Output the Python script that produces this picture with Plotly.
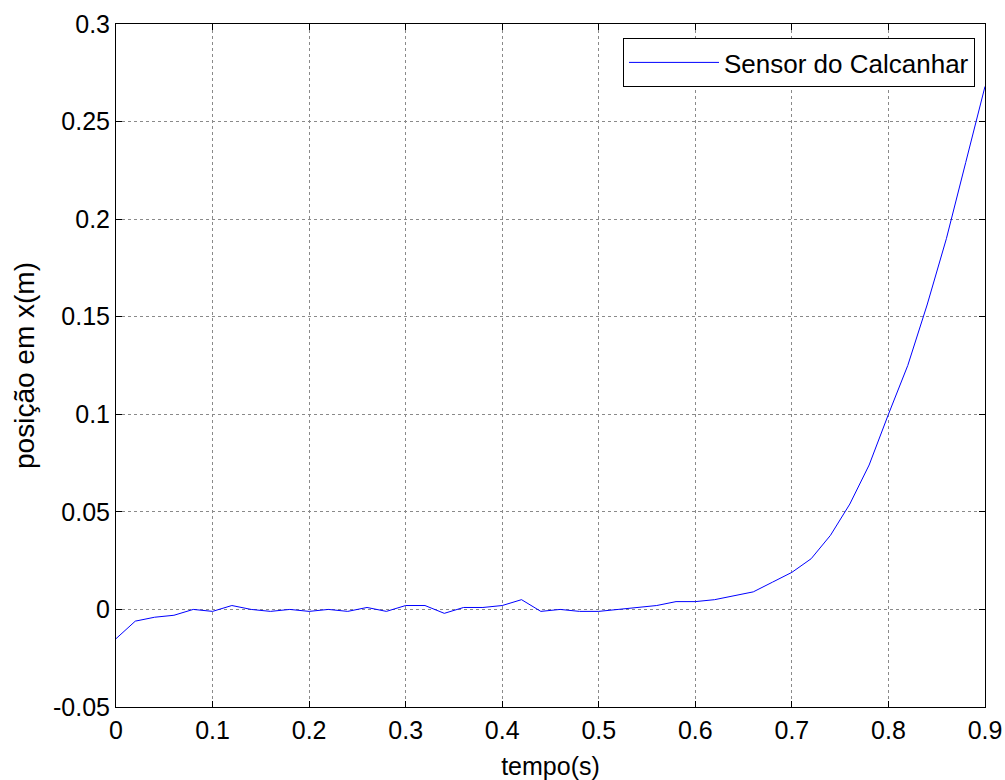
import plotly.graph_objects as go

t = [round(0.02 * i, 2) for i in range(46)]
pos_x = [-0.015, -0.006, -0.004, -0.003, 0.000, -0.001, 0.002, 0.000, -0.001, 0.000,
         -0.001, 0.000, -0.001, 0.001, -0.001, 0.002, 0.002, -0.002, 0.001, 0.001,
         0.002, 0.005, -0.001, 0.000, -0.001, -0.001, 0.000, 0.001, 0.002, 0.004,
         0.004, 0.005, 0.007, 0.009, 0.014, 0.019, 0.026, 0.038, 0.054, 0.074,
         0.100, 0.125, 0.156, 0.190, 0.229, 0.268]

x_ticks = [0, 0.1, 0.2, 0.3, 0.4, 0.5, 0.6, 0.7, 0.8, 0.9]
x_labels = ["0", "0.1", "0.2", "0.3", "0.4", "0.5", "0.6", "0.7", "0.8", "0.9"]
y_ticks = [-0.05, 0, 0.05, 0.1, 0.15, 0.2, 0.25, 0.3]
y_labels = ["-0.05", "0", "0.05", "0.1", "0.15", "0.2", "0.25", "0.3"]

FONT = "Liberation Sans, Arial, sans-serif"

fig = go.Figure()
fig.add_trace(go.Scatter(x=t, y=pos_x, mode="lines", name="Sensor do Calcanhar",
                         line=dict(color="#0000ff", width=1)))

axis_common = dict(
    showline=True, linecolor="black", linewidth=1, mirror="ticks",
    ticks="inside", ticklen=6, tickcolor="black",
    showgrid=True, gridcolor="#8a8a8a", griddash="dot", gridwidth=1,
    zeroline=False, automargin=False,
    tickfont=dict(family=FONT, size=25, color="black"),
)

fig.update_xaxes(range=[0, 0.9], tickvals=x_ticks, ticktext=x_labels,
                 ticklabelstandoff=1,
                 title=dict(text="tempo(s)", font=dict(family=FONT, size=25, color="black"), standoff=16),
                 **axis_common)
fig.update_yaxes(range=[-0.05, 0.3], tickvals=y_ticks, ticktext=y_labels,
                 title=dict(text="posição em x(m)", font=dict(family=FONT, size=28, color="black"), standoff=10),
                 **axis_common)

fig.update_layout(
    width=1005, height=780,
    margin=dict(l=116, r=20, t=24, b=73),
    plot_bgcolor="white", paper_bgcolor="white",
    showlegend=True,
    legend=dict(x=0.9885, y=0.9795, xanchor="right", yanchor="top",
                bordercolor="black", borderwidth=1, bgcolor="white",
                font=dict(family=FONT, size=26, color="black"),
                itemwidth=90),
)

fig.write_html("out.html")
